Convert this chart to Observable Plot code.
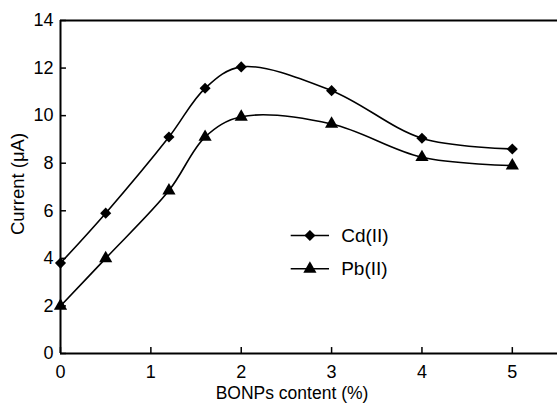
<!DOCTYPE html>
<html><head><meta charset="utf-8">
<script src="https://cdn.jsdelivr.net/npm/d3@7"></script>
<script src="https://cdn.jsdelivr.net/npm/@observablehq/plot@0.6"></script>
<style>body{margin:0;background:#fff}</style>
</head><body><div id="chart"></div>
<script>
const contents = [0, 0.5, 1.2, 1.6, 2, 3, 4, 5];
const cdCurrent = [3.8, 5.9, 9.1, 11.15, 12.05, 11.05, 9.05, 8.6];
const pbCurrent = [2.0, 4.0, 6.85, 9.1, 9.95, 9.65, 8.25, 7.9];
const seriesNames = ["Cd(II)", "Pb(II)"];
const xTicks = [0, 1, 2, 3, 4, 5];
const yTicks = [0, 2, 4, 6, 8, 10, 12, 14];
const xTitle = "BONPs content (%)";
const yTitle = "Current (\u03bcA)";

const cdRows = contents.map((x, i) => ({x, y: cdCurrent[i]}));
const pbRows = contents.map((x, i) => ({x, y: pbCurrent[i]}));
const symbols = [d3.symbolDiamond2, d3.symbolTriangle];
const radii = [5, 4.9];
const legendRows = seriesNames.map((name, i) => ({name, i, y: 4.96 - i * 1.4}));

const font = "'Liberation Sans', Arial, sans-serif";
const chart = Plot.plot({
  width: 557,
  height: 403,
  marginLeft: 60,
  marginRight: 0,
  marginTop: 20,
  marginBottom: 50,
  style: {fontFamily: font, fontSize: "18px", color: "#000", background: "#fff"},
  x: {domain: [0, 5.5], ticks: xTicks, tickFormat: d3.format("d"), tickSize: 0, tickPadding: 12, label: null},
  y: {domain: [0, 14], ticks: yTicks, tickFormat: d3.format("d"), tickSize: 0, tickPadding: 7, label: null},
  marks: [
    Plot.ruleX(xTicks, {x: d => d, y1: 0, y2: 0.25, stroke: "#000", strokeWidth: 1.5}),
    Plot.ruleY(yTicks, {y: d => d, x1: 0, x2: 0.066, stroke: "#000", strokeWidth: 1.5}),
    Plot.ruleY([0, 14], {stroke: "#000", strokeWidth: 2}),
    Plot.ruleX([0], {stroke: "#000", strokeWidth: 2}),
    Plot.line(cdRows, {x: "x", y: "y", curve: "catmull-rom", stroke: "#000", strokeWidth: 1.6}),
    Plot.line(pbRows, {x: "x", y: "y", curve: "catmull-rom", stroke: "#000", strokeWidth: 1.6}),
    Plot.dot(cdRows, {x: "x", y: "y", symbol: symbols[0], r: radii[0], fill: "#000", stroke: "none"}),
    Plot.dot(pbRows, {x: "x", y: "y", symbol: symbols[1], r: radii[1], fill: "#000", stroke: "none"}),
    Plot.ruleY(legendRows, {y: "y", x1: 2.553, x2: 2.977, stroke: "#000", strokeWidth: 1.6}),
    Plot.dot(legendRows.slice(0, 1), {x: 2.76, y: "y", symbol: symbols[0], r: radii[0], fill: "#000", stroke: "none"}),
    Plot.dot(legendRows.slice(1, 2), {x: 2.76, y: "y", symbol: symbols[1], r: radii[1], fill: "#000", stroke: "none"}),
    Plot.text(legendRows, {x: 3.106, y: "y", text: "name", textAnchor: "start", fontSize: 19, fill: "#000"}),
    Plot.text([xTitle], {frameAnchor: "bottom", dx: -17, dy: 40, text: d => d, textAnchor: "middle", lineAnchor: "middle", fontSize: 17.5, fill: "#000"}),
    Plot.text([yTitle], {frameAnchor: "left", dx: -42, dy: -3, text: d => d, rotate: -90, textAnchor: "middle", lineAnchor: "middle", fontSize: 18.5, fill: "#000"})
  ]
});
document.getElementById("chart").appendChild(chart);
</script>
</body></html>
